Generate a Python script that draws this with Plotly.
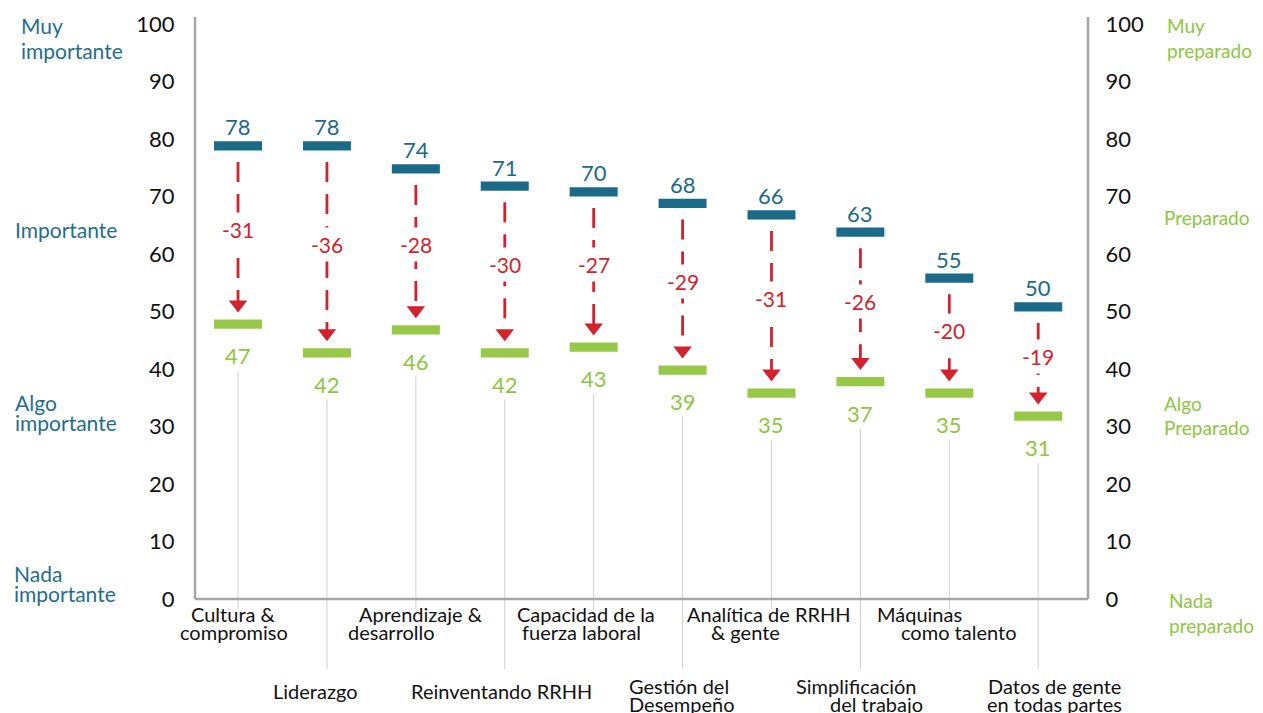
import plotly.graph_objects as go

# ---------------- data ----------------
categories = [
    ["Cultura &", "compromiso"],
    ["Liderazgo"],
    ["Aprendizaje &", "desarrollo"],
    ["Reinventando RRHH"],
    ["Capacidad de la", "fuerza laboral"],
    ["Gestión del", "Desempeño"],
    ["Analítica de RRHH", "& gente"],
    ["Simplificación", "del trabajo"],
    ["Máquinas", "como talento"],
    ["Datos de gente", "en todas partes"],
]
importance = [78, 78, 74, 71, 70, 68, 66, 63, 55, 50]
readiness = [47, 42, 46, 42, 43, 39, 35, 37, 35, 31]
gaps = [-31, -36, -28, -30, -27, -29, -31, -26, -20, -19]
y_ticks = list(range(0, 101, 10))
left_labels = [["Muy", "importante"], ["Importante"], ["Algo", "importante"], ["Nada", "importante"]]
right_labels = [["Muy", "preparado"], ["Preparado"], ["Algo", "Preparado"], ["Nada", "preparado"]]

# ---------------- style / layout ----------------
BLUE = "#1b6a87"
GREEN = "#97c847"
RED = "#d2222d"
TEAL_TXT = "#1f6e8c"
GREEN_TXT = "#8dc63f"
AXIS = "#a6a6a6"
FONT = "Lato"

PAGE_W, PAGE_H = 1263, 713
BODY = 8  # default page body margin
PLOT_L, PLOT_R, PLOT_T = 195, 1088, 17  # page pixels
PX_PER_UNIT = 5.75
Y0_PX = 599


def py(px):
    return (Y0_PX - px) / PX_PER_UNIT


def pxx(px):
    return (px - PLOT_L) / (PLOT_R - PLOT_L)


BAR_H = 1.6
BAR_W = 0.54
LABEL_XSHIFT = [[-5, -4], [-11], [5, -24], [-3], [-8, -12], [-4, -1], [-2, -26], [-4, 16], [-30, 10], [16, 16]]
ROW_Y = {0: {1: [615], 2: [614, 632]}, 1: {1: [691], 2: [686, 704]}}
LEFT_POS = [(19, [25, 50]), (13, [229]), (13, [402, 422]), (12, [573, 593])]
RIGHT_POS = [(1165, [25, 50]), (1162, [217]), (1162, [403, 427]), (1167, [600, 625])]
CONNECTOR_END = {0: py(609), 1: py(669)}
ARROW_OFF = BAR_H + 2.6

n = len(categories)
idx = list(range(n))

fig = go.Figure()

# connector lines (gray)
for i in idx:
    fig.add_trace(go.Scatter(
        x=[i, i], y=[readiness[i] - 7.3, CONNECTOR_END[i % 2]], mode="lines",
        line=dict(color="#cfcfcf", width=1), hoverinfo="skip", showlegend=False))

# red dashed arrows
for i in idx:
    fig.add_trace(go.Scatter(
        x=[i, i], y=[importance[i] - 2, readiness[i] + ARROW_OFF], mode="lines",
        line=dict(color=RED, width=2.8, dash="20px,12px"), hoverinfo="skip", showlegend=False))
fig.add_trace(go.Scatter(
    x=idx, y=[r + ARROW_OFF for r in readiness], mode="markers",
    marker=dict(symbol="triangle-down", size=16, color=RED),
    hoverinfo="skip", showlegend=False))

# bars
fig.add_trace(go.Bar(x=idx, y=[BAR_H] * n, base=importance, width=BAR_W,
                     marker=dict(color=BLUE, line=dict(width=0)), hoverinfo="skip", showlegend=False))
fig.add_trace(go.Bar(x=idx, y=[BAR_H] * n, base=readiness, width=BAR_W,
                     marker=dict(color=GREEN, line=dict(width=0)), hoverinfo="skip", showlegend=False))

# invisible trace for right axis
fig.add_trace(go.Scatter(x=[0], y=[0], yaxis="y2", mode="markers",
                         marker=dict(opacity=0), hoverinfo="skip", showlegend=False))

ann = []
for i in idx:
    ann.append(dict(x=i, y=importance[i] + BAR_H, xref="x", yref="y", text=str(importance[i]),
                    showarrow=False, yanchor="bottom", yshift=-1,
                    font=dict(family=FONT, size=22, color=BLUE)))
    ann.append(dict(x=i, y=readiness[i], xref="x", yref="y", text=str(readiness[i]),
                    showarrow=False, yanchor="middle", yshift=-27,
                    font=dict(family=FONT, size=22, color=GREEN_TXT)))
    ann.append(dict(x=i, y=(importance[i] + readiness[i]) / 2 + 1.7, xref="x", yref="y",
                    text=str(gaps[i]), showarrow=False, yanchor="middle",
                    bgcolor="white", borderpad=4,
                    font=dict(family=FONT, size=21, color=RED)))
    lines = categories[i]
    ys = ROW_Y[i % 2][len(lines)]
    for j, t in enumerate(lines):
        ann.append(dict(x=i, y=py(ys[j]), xref="x", yref="y", text=t, showarrow=False,
                        xshift=LABEL_XSHIFT[i][j], yanchor="middle",
                        font=dict(family=FONT, size=20, color="#111111")))

for lines, (xp, ys) in zip(left_labels, LEFT_POS):
    for t, yp in zip(lines, ys):
        ann.append(dict(x=pxx(xp), y=py(yp), xref="paper", yref="y", text=t, showarrow=False,
                        xanchor="left", yanchor="middle",
                        font=dict(family=FONT, size=21, color=TEAL_TXT)))
for lines, (xp, ys) in zip(right_labels, RIGHT_POS):
    for t, yp in zip(lines, ys):
        ann.append(dict(x=pxx(xp), y=py(yp), xref="paper", yref="y", text=t, showarrow=False,
                        xanchor="left", yanchor="middle",
                        font=dict(family=FONT, size=19, color=GREEN_TXT)))

yr = [py(PAGE_H), py(PLOT_T)]
fig.update_layout(
    width=PAGE_W - BODY, height=PAGE_H - BODY, autosize=False,
    margin=dict(l=PLOT_L - BODY, r=PAGE_W - PLOT_R, t=PLOT_T - BODY, b=0, pad=0),
    plot_bgcolor="white", paper_bgcolor="white",
    barmode="overlay", showlegend=False,
    font=dict(family=FONT),
    xaxis=dict(range=[-0.484, 9.56], visible=False, fixedrange=True),
    yaxis=dict(range=yr, tickvals=y_ticks, ticks="outside", ticklen=15,
               tickcolor="rgba(0,0,0,0)", showline=False, showgrid=False, zeroline=False,
               tickfont=dict(family=FONT, size=22, color="#111111"), fixedrange=True),
    yaxis2=dict(range=yr, tickvals=y_ticks, ticks="outside", ticklen=12, overlaying="y",
                side="right", tickcolor="rgba(0,0,0,0)", showline=False, showgrid=False,
                zeroline=False, tickfont=dict(family=FONT, size=22, color="#111111"),
                fixedrange=True),
    annotations=ann,
    shapes=[
        dict(type="line", xref="paper", yref="y", x0=0, x1=0, y0=0, y1=yr[1],
             line=dict(color=AXIS, width=2.5)),
        dict(type="line", xref="paper", yref="y", x0=0, x1=1, y0=0, y1=0,
             line=dict(color=AXIS, width=2.5)),
        dict(type="line", xref="paper", yref="y", x0=1, x1=1, y0=0, y1=yr[1],
             line=dict(color=AXIS, width=2.5)),
    ],
)

fig.write_html("out.html")
